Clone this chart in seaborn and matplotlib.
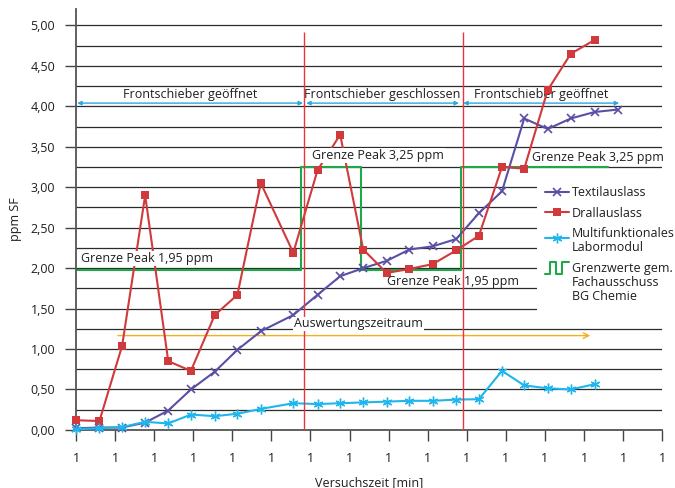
import numpy as np
import pandas as pd
import matplotlib
matplotlib.use('Agg')
import matplotlib.pyplot as plt
from matplotlib.lines import Line2D
from matplotlib.legend_handler import HandlerLine2D, HandlerBase
from matplotlib.ticker import MultipleLocator, FuncFormatter
import seaborn as sns

# Messzeitpunkte (Position auf der Zeitachse)
zeit = [0, 0.6, 1.18, 1.77, 2.36, 2.94, 3.55, 4.13, 4.73, 5.56, 6.18, 6.76,
        7.35, 7.95, 8.53, 9.13, 9.73, 10.31, 10.9, 11.47, 12.07, 12.66, 13.27, 13.86]

# Messwerte ppm SF
textilauslass = [0.02, 0.03, 0.03, 0.09, 0.24, 0.50, 0.72, 0.99, 1.22, 1.42, 1.67, 1.90,
                 2.00, 2.09, 2.23, 2.27, 2.36, 2.68, 2.95, 3.85, 3.72, 3.85, 3.93, 3.96]
drallauslass = [0.12, 0.11, 1.04, 2.90, 0.85, 0.73, 1.42, 1.67, 3.05, 2.19, 3.21, 3.65,
                2.23, 1.94, 1.99, 2.05, 2.22, 2.40, 3.25, 3.23, 4.20, 4.65, 4.82]
labormodul = [0.01, 0.02, 0.035, 0.10, 0.08, 0.19, 0.17, 0.20, 0.26, 0.33, 0.32, 0.33,
              0.34, 0.35, 0.36, 0.36, 0.375, 0.38, 0.73, 0.55, 0.515, 0.50, 0.565]

# Grenzwerte gem. Fachausschuss BG Chemie (Abschnitte)
grenz_zeit = [0, 5.77, 7.29, 9.85, 13.61]
grenz_wert = [1.98, 3.25, 1.98, 3.25]

# Frontschieber-Phasen
schieber_wechsel = [5.84, 9.90]
phasen_start = [0.03, 5.89, 9.91]
phasen_ende = [5.81, 9.80, 13.90]
phasen_text = ['Frontschieber geöffnet', 'Frontschieber geschlossen', 'Frontschieber geöffnet']
auswertung = [1.07, 13.16]

x_ticks = list(range(16))
x_labels = ['1'] * 16

c_textil = '#5a4fa6'
c_drall = '#d13a3c'
c_labor = '#1eb6ec'
c_grenz = '#1ea84a'
c_text = '#1e1e1e'

sns.set_style('white')
plt.rcParams['font.family'] = ['Open Sans', 'DejaVu Sans']
fs = 9

fig = plt.figure(figsize=(6.75, 4.88), dpi=100)
ax = fig.add_axes([0.1126, 0.119, 0.981 - 0.1126, 0.981 - 0.119])

df_t = pd.DataFrame({'zeit': zeit, 'wert': textilauslass})
df_d = pd.DataFrame({'zeit': zeit[:len(drallauslass)], 'wert': drallauslass})
df_l = pd.DataFrame({'zeit': zeit[:len(labormodul)], 'wert': labormodul})

sns.lineplot(data=df_t, x='zeit', y='wert', ax=ax, color=c_textil, lw=1.5, marker='x',
             markersize=6, markeredgewidth=1.2, markeredgecolor=c_textil,
             label='Textilauslass', zorder=3)
sns.lineplot(data=df_d, x='zeit', y='wert', ax=ax, color=c_drall, lw=1.5, marker='s',
             markersize=6, markeredgewidth=0, label='Drallauslass', zorder=3)
sns.lineplot(data=df_l, x='zeit', y='wert', ax=ax, color=c_labor, lw=1.5, marker=(6, 2, 0),
             markersize=7, markeredgewidth=1, markeredgecolor=c_labor,
             label='Multifunktionales\nLabormodul', zorder=3)
for l in ax.lines:
    l.set_clip_on(False)

# Grenzwert-Treppe
ax.plot(grenz_zeit, grenz_wert + [grenz_wert[-1]], drawstyle='steps-post',
        color=c_grenz, lw=1.5, zorder=2.5)

# Wechsel des Frontschiebers
ax.vlines(schieber_wechsel, 0, 4.92, color='#e8363a', lw=1, zorder=4)

for s, e, t in zip(phasen_start, phasen_ende, phasen_text):
    ax.annotate('', xy=(e, 4.04), xytext=(s, 4.04),
                arrowprops=dict(arrowstyle='<|-|>', color='#2aa9e0', lw=1,
                                mutation_scale=6, shrinkA=0, shrinkB=0), zorder=2.5)
    ax.text((s + e) / 2, 4.15, t, ha='center', va='center', fontsize=fs, color=c_text, zorder=2.5)

ax.annotate('', xy=(auswertung[1], 1.166), xytext=(auswertung[0], 1.166),
            arrowprops=dict(arrowstyle='->', color='#f5ae1e', lw=1,
                            mutation_scale=10, shrinkA=0, shrinkB=0), zorder=2.5)

box = dict(facecolor='white', edgecolor='none', pad=0.5)
ax.text(7.73, 3.39, 'Grenze Peak 3,25 ppm', ha='center', va='center', fontsize=fs,
        color=c_text, bbox=box, zorder=5)
ax.text(13.35, 3.37, 'Grenze Peak 3,25 ppm', ha='center', va='center', fontsize=fs,
        color=c_text, bbox=box, zorder=5)
ax.text(1.82, 2.12, 'Grenze Peak 1,95 ppm', ha='center', va='center', fontsize=fs,
        color=c_text, bbox=box, zorder=5)
ax.text(9.66, 1.83, 'Grenze Peak 1,95 ppm', ha='center', va='center', fontsize=fs,
        color=c_text, zorder=5)
ax.text(7.23, 1.31, 'Auswertungszeitraum', ha='center', va='center', fontsize=fs,
        color=c_text, bbox=box, zorder=5)

# Achsen
ax.set_xlim(0, 15)
ax.set_ylim(0, 5.2)
ax.set_xticks(x_ticks)
ax.set_xticklabels(x_labels)
ax.yaxis.set_major_locator(MultipleLocator(0.5))
ax.yaxis.set_minor_locator(MultipleLocator(0.25))
ax.yaxis.set_major_formatter(FuncFormatter(lambda v, p: f'{v:.2f}'.replace('.', ',')))
ax.grid(False)
ax.yaxis.grid(True, which='both', color='#2b2b2b', lw=0.9)
ax.set_axisbelow(True)
ax.tick_params(axis='both', which='major', direction='out', length=8, width=1,
               color='#444444', labelsize=fs, labelcolor=c_text, pad=7,
               bottom=True, left=True)
ax.tick_params(axis='x', which='major', pad=8)
ax.tick_params(axis='y', which='minor', length=0)
for side in ['top', 'right']:
    ax.spines[side].set_visible(False)
for side in ['left', 'bottom']:
    ax.spines[side].set_color('#555555')
    ax.spines[side].set_linewidth(1.3)
ax.set_xlabel('Versuchszeit [min]', fontsize=fs, color=c_text, labelpad=8)
ax.set_ylabel('ppm SF', fontsize=fs, color=c_text, labelpad=6)


class ShiftLine(HandlerLine2D):
    def __init__(self, shift=0.0, **kw):
        super().__init__(**kw)
        self.shift = shift

    def create_artists(self, legend, orig_handle, xdescent, ydescent, width, height, fontsize, trans):
        return super().create_artists(legend, orig_handle, xdescent, ydescent - self.shift * fontsize,
                                      width, height, fontsize, trans)


class StepHandler(HandlerBase):
    def __init__(self, shift=0.0):
        super().__init__()
        self.shift = shift

    def create_artists(self, legend, orig_handle, xdescent, ydescent, width, height, fontsize, trans):
        xs = np.array([0, 0.2, 0.2, 0.45, 0.45, 0.72, 0.72, 1.0]) * width - xdescent
        h = height * 1.4
        ys = np.array([0, 0, 1, 1, 0, 0, 1, 1]) * h - ydescent - (h - height) / 2 + self.shift * fontsize
        line = Line2D(xs, ys, color=orig_handle.get_color(), lw=1.5, transform=trans)
        return [line]


handles, labels = ax.get_legend_handles_labels()
grenz_handle = Line2D([], [], color=c_grenz)
handles.append(grenz_handle)
labels.append('Grenzwerte gem.\nFachausschuss\nBG Chemie')
hmap = {handles[2]: ShiftLine(shift=0.62), grenz_handle: StepHandler(shift=1.24)}
leg = ax.legend(handles, labels, handler_map=hmap, loc='upper left',
                bbox_to_anchor=(0.787, 0.598), borderaxespad=0, borderpad=0.6,
                handlelength=1.9, handletextpad=0.25, labelspacing=0.62,
                frameon=True, fancybox=False, framealpha=1, facecolor='white',
                edgecolor='none', fontsize=fs)
for t in leg.get_texts():
    t.set_color(c_text)
    t.set_linespacing(1.1)

fig.savefig('out.png', dpi=100)
